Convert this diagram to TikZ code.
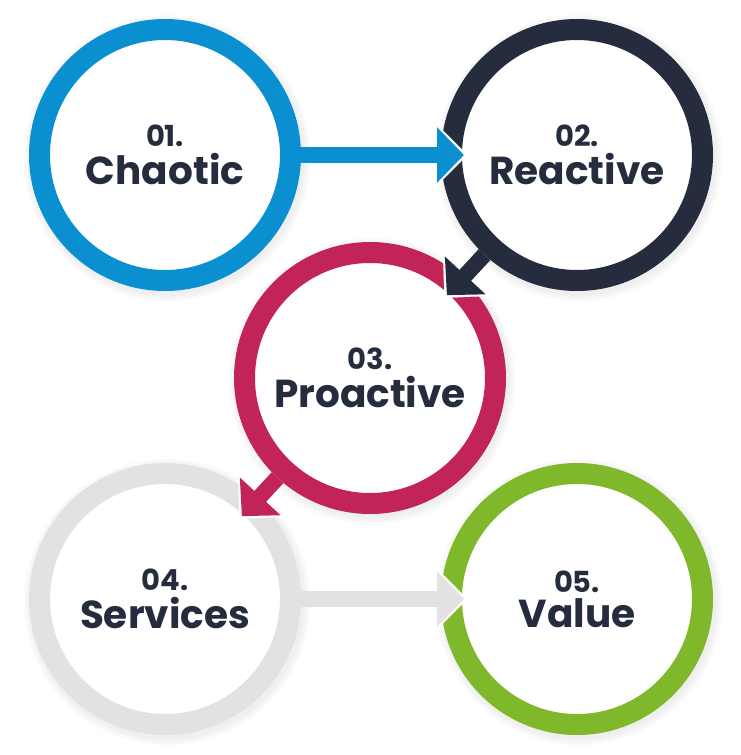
\documentclass[tikz,border=0pt]{standalone}
\usepackage{fontspec}
\setmainfont{Poppins}
\usetikzlibrary{arrows.meta}
\definecolor{StageBlue}{RGB}{10,144,208}
\definecolor{StageNavy}{RGB}{36,44,62}
\definecolor{StageRed}{RGB}{194,36,88}
\definecolor{StageGray}{RGB}{226,226,226}
\definecolor{StageGreen}{RGB}{128,184,44}
\newcommand{\stage}[2]{{\fontsize{29}{29}\selectfont #1}\\[5pt]{\fontsize{39}{39}\selectfont #2}}

\begin{document}
\begin{tikzpicture}[x=1pt,y=-1pt,
  ring/.style={circle,draw=#1,line width=21,minimum size=251,inner sep=0,fill=white,align=center,text=StageNavy,font=\bfseries},
  flow/.style={#1,line width=16,-{Triangle[width=54pt,length=27pt]},shorten >=-23pt},
  halo/.style={white,line width=.1,-{Triangle[width=66pt,length=33pt]},shorten >=-26.5pt}]
\useasboundingbox (0,0) rectangle (741,755);
% soft shadows
\foreach \cx/\cy in {165/155,577/155,370/378,165/599,577/599}{
  \foreach \s in {0,...,7}{\fill[black,opacity=.006] (\cx+2,\cy+3) circle (137+\s);}
}
\node[ring=StageBlue] (chaotic) at (165,155) {\stage{01.}{Chaotic}};
\node[ring=StageNavy] (reactive) at (577,155) {\stage{02.}{Reactive}};
\node[ring=StageRed] (proactive) at (370,378) {\stage{03.}{Proactive}};
\node[ring=StageGray] (services) at (165,599) {\stage{04.}{Services}};
\node[ring=StageGreen] (value) at (577,599) {\stage{05.}{Value}};
% arrows
\draw[halo] (chaotic) -- (reactive);
\draw[flow=StageBlue] (chaotic) -- (reactive);
\draw[halo] (reactive) -- (proactive);
\draw[flow=StageNavy] (reactive) -- (proactive);
\draw[halo] (proactive) -- (services);
\draw[flow=StageRed] (proactive) -- (services);
\draw[halo] (services) -- (value);
\draw[flow=StageGray] (services) -- (value);
\end{tikzpicture}
\end{document}
